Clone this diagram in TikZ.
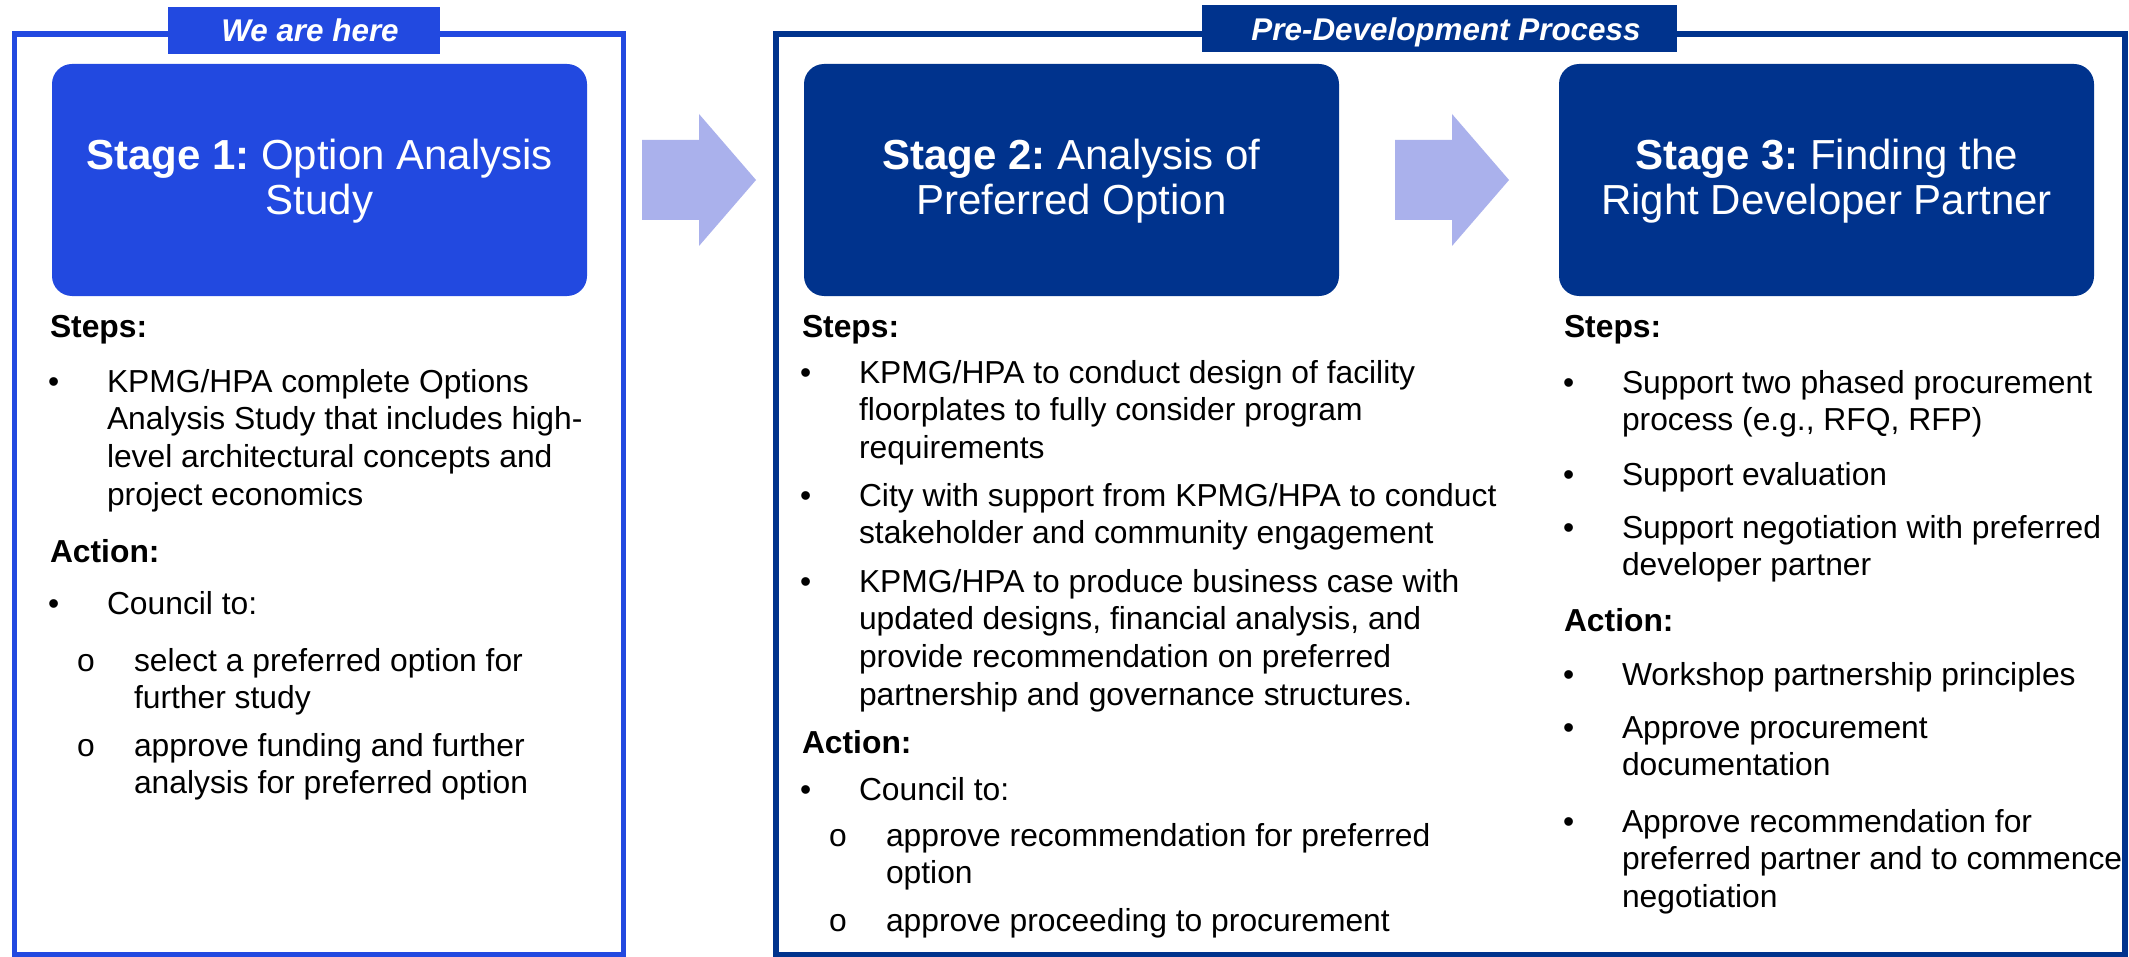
\documentclass[tikz,border=0pt]{standalone}
\usepackage{fontspec}
\setmainfont{Liberation Sans}
\frenchspacing
\definecolor{brightblue}{HTML}{2249E0}
\definecolor{kpmgblue}{HTML}{00338D}
\definecolor{arrowlav}{HTML}{AAB1EC}
\newcommand\myBody{\fontsize{15.9pt}{18.9pt}\selectfont}
\newcommand\myTitle{\fontsize{21pt}{22.5pt}\selectfont}
\newcommand\myBanner{\fontsize{15.7pt}{18pt}\selectfont\bfseries\itshape}
\begin{document}
\frenchspacing
\begin{tikzpicture}[x=0.5pt,y=-0.5pt,
  stagebox/.style={rectangle, rounded corners=10pt, minimum width=267.5pt, minimum height=116pt, inner sep=0pt, draw=none},
  frameline/.style={line width=2.75pt},
  bt/.style={anchor=base west, inner sep=0pt, outer sep=0pt, font=\myBody},
  hd/.style={bt, font=\myBody\bfseries},
  ttl/.style={anchor=base, inner sep=0pt, font=\myTitle, text=white},
  bann/.style={anchor=base, inner sep=0pt, font=\myBanner, text=white},
  blockarrow/.style={fill=arrowlav, draw=none}]
\useasboundingbox (0,0) rectangle (2129,957);
\fill[white] (0,0) rectangle (2129,957);

% frames
\draw[frameline, draw=brightblue] (14.5,34) rectangle (623.5,954.5);
\draw[frameline, draw=kpmgblue] (776,34) rectangle (2125,954.5);

% banners
\node[fill=brightblue, minimum width=136pt, minimum height=23.5pt, inner sep=0pt] (ban1) at (304,30.5) {};
\node[bann] (ban1t) at (310,42) {We are here};
\node[fill=kpmgblue, minimum width=237.5pt, minimum height=23.5pt, inner sep=0pt] (ban2) at (1439.5,28.5) {};
\node[bann] (ban2t) at (1446,41) {Pre-Development Process};

% stage boxes
\node[stagebox, fill=brightblue] (box1) at (319.5,180) {};
\node[stagebox, fill=kpmgblue] (box2) at (1071.5,180) {};
\node[stagebox, fill=kpmgblue] (box3) at (1826.5,180) {};
\node[ttl] (t1) at (319.5,170) {\parbox[t]{265pt}{\centering\textbf{Stage 1:} Option Analysis\\Study}};
\node[ttl] (t2) at (1071.5,170) {\parbox[t]{265pt}{\centering\textbf{Stage 2:} Analysis of\\Preferred Option}};
\node[ttl] (t3) at (1826.5,170) {\parbox[t]{265pt}{\centering\textbf{Stage 3:} Finding the\\Right Developer Partner}};

% block arrows
\fill[blockarrow] (642,140) -- (699,140) -- (699,114) -- (756,180) -- (699,246) -- (699,220) -- (642,220) -- cycle;
\fill[blockarrow] (1395,140) -- (1452,140) -- (1452,114) -- (1509,180) -- (1452,246) -- (1452,220) -- (1395,220) -- cycle;

% column 1
\node[hd] (c1steps) at (50,337) {Steps:};
\node[bt] (c1b1) at (48,392) {•};
\node[bt] (c1t1) at (107,392) {\parbox[t]{330pt}{KPMG/HPA complete Options\\Analysis Study that includes high-\\level architectural concepts and\\project economics}};
\node[hd] (c1act) at (50,562) {Action:};
\node[bt] (c1b2) at (48,614) {•};
\node[bt] (c1t2) at (107,614) {Council to:};
\node[bt] (c1o1) at (77,671) {o};
\node[bt] (c1s1) at (134,671) {\parbox[t]{330pt}{select a preferred option for\\further study}};
\node[bt] (c1o2) at (77,756) {o};
\node[bt] (c1s2) at (134,756) {\parbox[t]{330pt}{approve funding and further\\analysis for preferred option}};

% column 2
\node[hd] (c2steps) at (802,337) {Steps:};
\node[bt] (c2b1) at (800,383) {•};
\node[bt] (c2t1) at (859,383) {\parbox[t]{330pt}{KPMG/HPA to conduct design of facility\\floorplates to fully consider program\\requirements}};
\node[bt] (c2b2) at (800,506) {•};
\node[bt] (c2t2) at (859,506) {\parbox[t]{330pt}{City with support from KPMG/HPA to conduct\\stakeholder and community engagement}};
\node[bt] (c2b3) at (800,592) {•};
\node[bt] (c2t3) at (859,592) {\parbox[t]{330pt}{KPMG/HPA to produce business case with\\updated designs, financial analysis, and\\provide recommendation on preferred\\partnership and governance structures.}};
\node[hd] (c2act) at (802,753) {Action:};
\node[bt] (c2b4) at (800,800) {•};
\node[bt] (c2t4) at (859,800) {Council to:};
\node[bt] (c2o1) at (829,846) {o};
\node[bt] (c2s1) at (886,846) {\parbox[t]{330pt}{approve recommendation for preferred\\option}};
\node[bt] (c2o2) at (829,931) {o};
\node[bt] (c2s2) at (886,931) {approve proceeding to procurement};

% column 3
\node[hd] (c3steps) at (1564,337) {Steps:};
\node[bt] (c3b1) at (1563,393) {•};
\node[bt] (c3t1) at (1622,393) {\parbox[t]{330pt}{Support two phased procurement\\process (e.g., RFQ, RFP)}};
\node[bt] (c3b2) at (1563,485) {•};
\node[bt] (c3t2) at (1622,485) {Support evaluation};
\node[bt] (c3b3) at (1563,538) {•};
\node[bt] (c3t3) at (1622,538) {\parbox[t]{330pt}{Support negotiation with preferred\\developer partner}};
\node[hd] (c3act) at (1564,631) {Action:};
\node[bt] (c3b4) at (1563,685) {•};
\node[bt] (c3t4) at (1622,685) {Workshop partnership principles};
\node[bt] (c3b5) at (1563,738) {•};
\node[bt] (c3t5) at (1622,738) {\parbox[t]{330pt}{Approve procurement\\documentation}};
\node[bt] (c3b6) at (1563,832) {•};
\node[bt] (c3t6) at (1622,832) {\parbox[t]{330pt}{Approve recommendation for\\preferred partner and to commence\\negotiation}};
\end{tikzpicture}
\end{document}
